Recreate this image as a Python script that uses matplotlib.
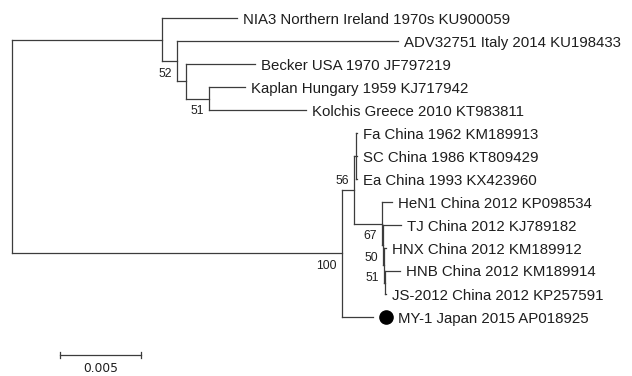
import matplotlib
matplotlib.use("Agg")
import matplotlib.pyplot as plt

# tip order, top to bottom
tips = ["NIA3", "ADV32751", "Becker", "Kaplan", "Kolchis", "Fa", "SC", "Ea",
        "HeN1", "TJ", "HNX", "HNB", "JS-2012", "MY-1"]
tip_labels = ["NIA3 Northern Ireland 1970s KU900059",
              "ADV32751 Italy 2014 KU198433",
              "Becker USA 1970 JF797219",
              "Kaplan Hungary 1959 KJ717942",
              "Kolchis Greece 2010 KT983811",
              "Fa China 1962 KM189913",
              "SC China 1986 KT809429",
              "Ea China 1993 KX423960",
              "HeN1 China 2012 KP098534",
              "TJ China 2012 KJ789182",
              "HNX China 2012 KM189912",
              "HNB China 2012 KM189914",
              "JS-2012 China 2012 KP257591",
              "MY-1 Japan 2015 AP018925"]

# (child, parent, branch length in substitutions/site)
edges = [
    ("U", "root", 0.00929),
    ("NIA3", "U", 0.00465),
    ("N2", "U", 0.00093),
    ("ADV32751", "N2", 0.01369),
    ("N3", "N2", 0.00056),
    ("Becker", "N3", 0.00428),
    ("N4", "N3", 0.00143),
    ("Kaplan", "N4", 0.00223),
    ("Kolchis", "N4", 0.00601),
    ("A", "root", 0.02045),
    ("B", "A", 0.00074),
    ("C", "B", 0.00012),
    ("Fa", "C", 0.00006),
    ("SC", "C", 0.00006),
    ("Ea", "C", 0.00006),
    ("E", "B", 0.00173),
    ("HeN1", "E", 0.00062),
    ("X", "E", 0.00006),
    ("TJ", "X", 0.00112),
    ("F", "X", 0.00006),
    ("HNX", "F", 0.00012),
    ("G", "F", 0.00006),
    ("HNB", "G", 0.00093),
    ("JS-2012", "G", 0.00006),
    ("MY-1", "A", 0.00192),
]

bootstrap = {"N2": 52, "N4": 51, "A": 100, "B": 56, "E": 67, "X": 50, "F": 51}
marked = ["MY-1"]
scale_len = 0.005

# ---- layout
children = {}
blen = {}
for c, p, b in edges:
    children.setdefault(p, []).append(c)
    blen[c] = b

xpos = {"root": 0.0}
for c, p, b in edges:
    xpos[c] = xpos[p] + b

ypos = {t: i for i, t in enumerate(tips)}

def get_y(n):
    if n in ypos:
        return ypos[n]
    ys = [get_y(k) for k in children[n]]
    ypos[n] = (ys[0] + ys[-1]) / 2
    return ypos[n]

get_y("root")

px = 1 / 16140.0  # one pixel in tree units
line_col = "#3c3c3c"
txt_col = "#1e1e1e"

fig = plt.figure(figsize=(6.32, 3.76), dpi=100)
ax = fig.add_axes([0, 0, 1, 1])
ax.set_xlim(-12 * px, 620 * px)
ax.set_ylim((376 - 18) / 23, -18 / 23)
ax.axis("off")

for n, kids in children.items():
    ys = [ypos[k] for k in kids]
    ax.plot([xpos[n], xpos[n]], [min(ys), max(ys)], color=line_col, lw=0.9,
            solid_capstyle="projecting")
for c, p, b in edges:
    ax.plot([xpos[p], xpos[c]], [ypos[c], ypos[c]], color=line_col, lw=0.9,
            solid_capstyle="projecting")

for t, lab in zip(tips, tip_labels):
    gap = 6 * px
    if t in marked:
        ax.plot(xpos[t] + 13 * px, ypos[t], "o", color="black", ms=9.5)
        gap = 25 * px
    ax.text(xpos[t] + gap, ypos[t], lab, ha="left", va="center_baseline",
            fontsize=10.8, family="Liberation Sans", color=txt_col)

for n, v in bootstrap.items():
    dy = 0.55
    if n == "B":  # no room below, label sits above the branch
        dy = -0.38
    ax.text(xpos[n] - 5 * px, ypos[n] + dy, str(v), ha="right", va="center",
            fontsize=8.7, family="Liberation Sans", color=txt_col)

# scale bar
sx = 48 * px
sy = (355 - 18) / 23
ax.plot([sx, sx + scale_len], [sy, sy], color=line_col, lw=0.9)
for e in (sx, sx + scale_len):
    ax.plot([e, e], [sy - 0.15, sy + 0.15], color=line_col, lw=0.9)
ax.text(sx + scale_len / 2, sy + 0.6, "0.005", ha="center", va="center",
        fontsize=8.8, family="DejaVu Sans", color=txt_col)

fig.savefig("out.png", dpi=100)
